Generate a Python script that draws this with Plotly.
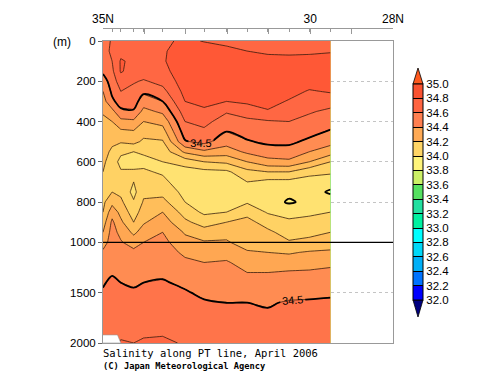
import plotly.graph_objects as go

# ---------------- data ----------------
LAT = [35.0, 34.78, 34.57, 34.26, 34.02, 33.56, 33.02, 32.56, 32.02, 31.52, 31.02, 30.51, 30.02, 29.51]
DEPTH = [0, 50, 100, 150, 200, 250, 300, 350, 400, 450, 500, 550, 600, 650, 700, 750, 800,
         850, 900, 950, 1000, 1100, 1200, 1300, 1400, 1500, 1600, 1700, 1800, 1900, 2000]
# salinity, one row per depth, one column per station (LAT order)
SAL = [
    [34.56, 34.61, 34.65, 34.67, 34.69, 34.68, 34.72, 34.695, 34.68, 34.66, 34.65, 34.66, 34.66, 34.66],
    [34.56, 34.62, 34.67, 34.68, 34.69, 34.69, 34.74, 34.75, 34.72, 34.70, 34.68, 34.68, 34.68, 34.69],
    [34.55, 34.60, 34.71, 34.68, 34.68, 34.69, 34.76, 34.77, 34.77, 34.76, 34.74, 34.73, 34.74, 34.75],
    [34.52, 34.58, 34.71, 34.66, 34.65, 34.67, 34.76, 34.77, 34.78, 34.77, 34.77, 34.77, 34.77, 34.76],
    [34.45, 34.55, 34.65, 34.61, 34.59, 34.63, 34.75, 34.77, 34.78, 34.77, 34.77, 34.77, 34.75, 34.75],
    [34.40, 34.52, 34.60, 34.57, 34.52, 34.57, 34.73, 34.76, 34.75, 34.75, 34.76, 34.74, 34.69, 34.71],
    [34.36, 34.48, 34.54, 34.54, 34.45, 34.50, 34.70, 34.73, 34.70, 34.72, 34.74, 34.69, 34.65, 34.64],
    [34.31, 34.37, 34.48, 34.49, 34.37, 34.42, 34.65, 34.68, 34.61, 34.64, 34.69, 34.65, 34.61, 34.58],
    [34.28, 34.30, 34.37, 34.38, 34.30, 34.33, 34.60, 34.63, 34.55, 34.58, 34.59, 34.60, 34.57, 34.54],
    [34.26, 34.26, 34.28, 34.29, 34.24, 34.26, 34.55, 34.58, 34.50, 34.54, 34.56, 34.56, 34.53, 34.49],
    [34.25, 34.22, 34.21, 34.23, 34.18, 34.19, 34.49, 34.53, 34.44, 34.49, 34.52, 34.52, 34.48, 34.43],
    [34.24, 34.18, 34.12, 34.10, 34.11, 34.14, 34.32, 34.38, 34.35, 34.42, 34.45, 34.46, 34.40, 34.35],
    [34.22, 34.15, 34.07, 34.07, 34.08, 34.10, 34.14, 34.20, 34.22, 34.30, 34.37, 34.38, 34.30, 34.20],
    [34.20, 34.14, 34.11, 34.11, 34.11, 34.09, 34.06, 34.07, 34.08, 34.17, 34.20, 34.20, 34.13, 34.12],
    [34.18, 34.16, 34.15, 34.10, 34.15, 34.12, 34.05, 34.04, 34.04, 34.10, 34.07, 34.07, 34.06, 34.03],
    [34.16, 34.20, 34.18, 34.07, 34.18, 34.17, 34.07, 34.03, 34.02, 34.06, 34.04, 34.02, 34.03, 33.99],
    [34.18, 34.27, 34.22, 34.11, 34.21, 34.23, 34.10, 34.04, 34.03, 34.09, 34.04, 33.99, 34.02, 34.04],
    [34.20, 34.36, 34.27, 34.15, 34.25, 34.30, 34.16, 34.08, 34.10, 34.17, 34.09, 34.06, 34.08, 34.10],
    [34.25, 34.42, 34.32, 34.20, 34.29, 34.35, 34.22, 34.16, 34.20, 34.23, 34.16, 34.12, 34.13, 34.15],
    [34.30, 34.44, 34.37, 34.28, 34.34, 34.40, 34.29, 34.24, 34.27, 34.25, 34.22, 34.16, 34.18, 34.20],
    [34.35, 34.45, 34.41, 34.35, 34.40, 34.43, 34.33, 34.31, 34.31, 34.26, 34.25, 34.21, 34.22, 34.24],
    [34.42, 34.46, 34.44, 34.43, 34.44, 34.45, 34.38, 34.36, 34.36, 34.31, 34.30, 34.29, 34.31, 34.32],
    [34.45, 34.47, 34.46, 34.45, 34.46, 34.46, 34.42, 34.40, 34.41, 34.36, 34.35, 34.35, 34.37, 34.38],
    [34.47, 34.49, 34.48, 34.47, 34.48, 34.48, 34.45, 34.43, 34.43, 34.40, 34.40, 34.41, 34.41, 34.42],
    [34.49, 34.52, 34.50, 34.49, 34.50, 34.51, 34.48, 34.45, 34.45, 34.43, 34.43, 34.44, 34.45, 34.46],
    [34.51, 34.53, 34.52, 34.51, 34.52, 34.53, 34.51, 34.48, 34.48, 34.47, 34.46, 34.47, 34.48, 34.49],
    [34.52, 34.54, 34.54, 34.53, 34.54, 34.55, 34.53, 34.51, 34.50, 34.50, 34.49, 34.51, 34.51, 34.51],
    [34.53, 34.55, 34.55, 34.55, 34.56, 34.56, 34.55, 34.53, 34.52, 34.52, 34.51, 34.52, 34.52, 34.52],
    [34.54, 34.55, 34.56, 34.56, 34.58, 34.57, 34.56, 34.54, 34.53, 34.53, 34.52, 34.53, 34.53, 34.53],
    [34.55, 34.56, 34.58, 34.58, 34.59, 34.59, 34.57, 34.55, 34.54, 34.54, 34.53, 34.54, 34.54, 34.54],
    [34.55, 34.56, 34.61, 34.60, 34.61, 34.62, 34.59, 34.56, 34.55, 34.55, 34.54, 34.55, 34.55, 34.55],
]
# sea-floor outline at the northern end
BOTTOM_LAT = [35.0, 34.65, 34.57]
BOTTOM_DEPTH = [1920, 1920, 2000]

X_MAJOR = [35, 34, 33, 32, 31, 30, 29, 28]
X_MAJOR_TEXT = ["35N", "", "", "", "", "30", "", "28N"]
Y_TICKS = [0, 200, 400, 600, 800, 1000, 1500, 2000]
CB_TICKS = [round(32.0 + 0.2 * i, 1) for i in range(16)]

BREAK_DEPTH = 1000
DEEP_SCALE = 0.5


def zt(d):
    return d if d <= BREAK_DEPTH else BREAK_DEPTH + (d - BREAK_DEPTH) * DEEP_SCALE


Y_T = [zt(d) for d in DEPTH]
Y_MAX = zt(DEPTH[-1])

# ---------------- colours ----------------
FILL_KNOTS = [(31.95, '#000080'), (32.1, '#0000FF'), (32.3, '#0073FF'), (32.5, '#00B0F8'),
              (32.7, '#00D8F8'), (32.9, '#00FFFF'), (33.1, '#00F0A0'), (33.3, '#22E0A0'),
              (33.5, '#55E060'), (33.7, '#CCF066'), (33.95, '#FFF27C'), (34.05, '#FFE271'),
              (34.15, '#FFD264'), (34.25, '#FFBE5A'), (34.35, '#FFA752'), (34.45, '#FF8C52'),
              (34.55, '#FF744A'), (34.65, '#FF6743'), (34.75, '#FF5836'), (34.85, '#FA5230'),
              (34.95, '#F84E2C'), (35.05, '#FF5020')]
lo, hi = FILL_KNOTS[0][0], FILL_KNOTS[-1][0]
FILL_SCALE = [[(v - lo) / (hi - lo), c] for v, c in FILL_KNOTS]

CB_COLORS = ['#0000FF', '#0073FF', '#00B0F8', '#00D8F8', '#00FFFF', '#00F0A0', '#22E0A0',
             '#55E060', '#CCF066', '#FFF47A', '#FFD566', '#FFAA55', '#FF7F50', '#FF6440', '#FA5230']
CB_SCALE = []
n = len(CB_COLORS)
for i, c in enumerate(CB_COLORS):
    CB_SCALE.append([i / n, c])
    CB_SCALE.append([(i + 1) / n, c])

FONT = "Liberation Sans, Arial, sans-serif"

fig = go.Figure()

fig.add_trace(go.Contour(
    x=LAT, y=Y_T, z=SAL, autocontour=False,
    contours=dict(start=32.0, end=35.0, size=0.1, coloring='fill', showlines=True),
    colorscale=FILL_SCALE, showscale=False,
    line=dict(color='rgba(45,22,10,0.95)', width=0.8, smoothing=0),
    hoverinfo='skip'))

fig.add_trace(go.Contour(
    x=LAT, y=Y_T, z=SAL, autocontour=False,
    contours=dict(start=34.0, end=34.0, size=0.1, coloring='none'),
    showscale=False, line=dict(color='black', width=1.8), hoverinfo='skip'))

fig.add_trace(go.Contour(
    x=LAT, y=Y_T, z=SAL, autocontour=False,
    contours=dict(start=34.5, end=34.5, size=0.1, coloring='none', showlabels=True,
                  labelfont=dict(size=11, color='black', family=FONT), labelformat='.1f'),
    showscale=False, line=dict(color='black', width=1.8), hoverinfo='skip'))

# sea floor mask
bx = BOTTOM_LAT + [BOTTOM_LAT[-1], BOTTOM_LAT[0]]
by = [zt(d) for d in BOTTOM_DEPTH] + [Y_MAX, Y_MAX]
fig.add_trace(go.Scatter(x=bx, y=by, fill='toself', fillcolor='white', mode='lines',
                         line=dict(color='#999999', width=0.6), hoverinfo='skip', showlegend=False))

# page coordinates (the page body has an 8px margin)
OFF = 8
L, R, T, B = 103, 393, 28, 343          # plot left/right, top-axis line, plot bottom (page px)


def px(xp):
    return (xp - L) / (R - L)


def py(yp):
    return (B - yp) / (B - T)


# dummy trace that carries the colour bar
fig.add_trace(go.Scatter(
    x=[40], y=[0], xaxis='x2', mode='markers', hoverinfo='skip', showlegend=False,
    marker=dict(color=[33.5], colorscale=CB_SCALE, cmin=32.0, cmax=35.0, showscale=True,
                colorbar=dict(x=px(413), xanchor='left', xpad=0,
                              y=py(192), yanchor='middle', ypad=0,
                              len=216, lenmode='pixels', thickness=10,
                              outlinewidth=1, outlinecolor='black',
                              tickmode='array', tickvals=CB_TICKS,
                              ticktext=['%.1f' % v for v in CB_TICKS],
                              ticks='inside', ticklen=10, tickcolor='black', tickwidth=1,
                              tickfont=dict(size=11.5, color='black', family=FONT)))))

shapes = [
    dict(type='line', xref='x domain', x0=0, x1=1, yref='y', y0=zt(BREAK_DEPTH), y1=zt(BREAK_DEPTH),
         line=dict(color='black', width=1.2)),
    dict(type='path', xref='paper', yref='paper',
         path=f"M {px(413)},{py(84)} L {px(423)},{py(84)} L {px(418)},{py(68)} Z",
         fillcolor='#FF5A1E', line=dict(color='black', width=0.8)),
    dict(type='path', xref='paper', yref='paper',
         path=f"M {px(413)},{py(300)} L {px(423)},{py(300)} L {px(418)},{py(317)} Z",
         fillcolor='#000080', line=dict(color='black', width=0.8)),
]

W, H = 500, 387
fig.update_layout(
    width=W, height=H,
    margin=dict(l=L - OFF, r=W - (R - OFF), t=T - OFF, b=H - (B - OFF), autoexpand=False),
    paper_bgcolor='white', plot_bgcolor='white',
    showlegend=False,
    font=dict(family=FONT, color='black'),
    xaxis=dict(range=[35, 28], showline=True, mirror=True, linecolor='#999999', linewidth=1,
               ticks='', showticklabels=False, showgrid=False, zeroline=False, automargin=False),
    xaxis2=dict(range=[35, 28], overlaying='x', side='top', anchor='free', position=1,
                showline=True, linecolor='#999999', linewidth=1, automargin=False,
                tickmode='array', tickvals=X_MAJOR, ticktext=X_MAJOR_TEXT,
                ticks='inside', ticklen=5, tickcolor='#999999',
                minor=dict(tickmode='array', tickvals=LAT, ticks='inside', ticklen=3, tickcolor='#999999'),
                tickfont=dict(size=12, color='black', family=FONT),
                showgrid=False, zeroline=False),
    yaxis=dict(range=[Y_MAX, 0], domain=[0, (B - 41) / (B - T)], showline=True, mirror=True,
               linecolor='#999999', linewidth=1, automargin=False,
               tickmode='array', tickvals=[zt(d) for d in Y_TICKS], ticktext=[str(d) for d in Y_TICKS],
               ticks='outside', ticklen=4, tickcolor='#666666',
               tickfont=dict(size=11.5, color='black', family=FONT),
               showgrid=True, gridcolor='#c4c4c4', griddash='dot', gridwidth=1, zeroline=False),
    shapes=shapes,
    annotations=[
        dict(text='(m)', x=px(62), y=py(42), xref='paper', yref='paper', showarrow=False,
             xanchor='center', yanchor='middle', font=dict(size=12, family=FONT)),
        dict(text='Salinity along PT line, April 2006', x=px(101), y=py(353), xref='paper',
             yref='paper', showarrow=False, xanchor='left', yanchor='middle',
             font=dict(size=10.5, family='DejaVu Sans Mono')),
        dict(text='<b>(C) Japan Meteorological Agency</b>', x=px(101), y=py(366), xref='paper',
             yref='paper', showarrow=False, xanchor='left', yanchor='middle',
             font=dict(size=8.7, family='DejaVu Sans Mono')),
    ],
)

fig.write_html("out.html")
